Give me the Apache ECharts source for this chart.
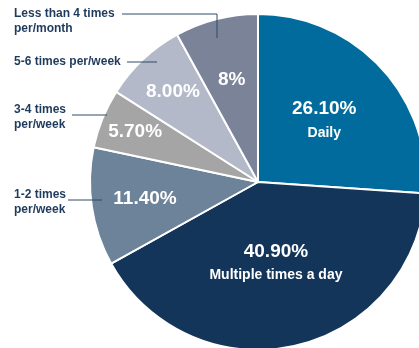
<!DOCTYPE html>
<html>
<head>
<meta charset="utf-8">
<script src="https://cdn.jsdelivr.net/npm/echarts@6/dist/echarts.min.js"></script>
<style>
  html, body { margin: 0; padding: 0; background: #ffffff; }
  #chart { width: 419px; height: 348px; }
</style>
</head>
<body>
<div id="chart"></div>
<script>
// Frequency categories, clockwise from 12 o'clock
const categories = [
  'Daily',
  'Multiple times a day',
  '1-2 times\nper/week',
  '3-4 times\nper/week',
  '5-6 times per/week',
  'Less than 4 times\nper/month'
];
// Share of respondents (%)
const shares = [26.1, 40.9, 11.4, 5.7, 8.0, 8.0];
// Value text shown on each slice
const valueLabels = ['26.10%', '40.90%', '11.40%', '5.70%', '8.00%', '8%'];
// Captions drawn under the value on the two large slices
const sliceCaptions = ['Daily', 'Multiple times a day', '', '', '', ''];
// Slices whose name is drawn outside, to the left
const outsideNamed = [false, false, true, true, true, true];

const colors = ['#006b9c', '#14355a', '#6d8399', '#a5a5a5', '#b3b9c8', '#7b8399'];

// Geometry
const CX = 258, CY = 182, R = 168;
// Radial position (fraction of radius) of each value label
const labelRadius = [0.54, 0.49, 0.68, 0.79, 0.74, 0.63];
// Placement of the outside names and their leader lines
const outsideLayout = [
  null,
  null,
  { x: 14, y: 202, line: [[68, 200], [102, 200]] },
  { x: 14, y: 117, line: [[72, 115], [107, 115]] },
  { x: 14, y: 62,  line: [[127, 62], [157, 62]] },
  { x: 14, y: 21,  line: [[122, 14], [217, 14], [217, 38]] }
];

const total = shares.reduce((a, b) => a + b, 0);
const midAngles = [];
{
  let acc = 0;
  shares.forEach(v => {
    midAngles.push((acc + v / 2) / total * 2 * Math.PI);
    acc += v;
  });
}

const chart = echarts.init(document.getElementById('chart'), null, { renderer: 'canvas' });

const innerData = shares.map((v, i) => ({
  value: v,
  name: categories[i],
  itemStyle: { color: colors[i] }
}));

const outerData = shares.map((v, i) => ({
  value: v,
  name: categories[i],
  label: { show: outsideNamed[i] }
}));

// Leader lines from each outside name into its slice
const leaderLines = outsideLayout.filter(Boolean).map(L => ({
  type: 'polyline',
  silent: true,
  z: 100,
  shape: { points: L.line },
  style: { stroke: '#2f4a68', lineWidth: 1, fill: null }
}));

chart.setOption({
  animation: false,
  textStyle: { fontFamily: 'Liberation Sans, Arial, sans-serif' },
  graphic: leaderLines,
  series: [
    {
      type: 'pie',
      center: [CX, CY],
      radius: [0, R],
      startAngle: 90,
      clockwise: true,
      silent: true,
      itemStyle: { borderColor: '#ffffff', borderWidth: 2 },
      label: {
        show: true,
        position: 'inside',
        formatter: p => sliceCaptions[p.dataIndex]
          ? '{v|' + valueLabels[p.dataIndex] + '}\n{c|' + sliceCaptions[p.dataIndex] + '}'
          : '{v|' + valueLabels[p.dataIndex] + '}',
        align: 'center',
        verticalAlign: 'middle',
        rich: {
          v: { color: '#ffffff', fontSize: 19, fontWeight: 'bold', lineHeight: 26,
               fontFamily: 'Liberation Sans, Arial, sans-serif', align: 'center' },
          c: { color: '#ffffff', fontSize: 14, fontWeight: 'bold', lineHeight: 22,
               fontFamily: 'Liberation Sans, Arial, sans-serif', align: 'center' }
        }
      },
      labelLine: { show: false },
      labelLayout: p => {
        const i = p.dataIndex;
        const a = midAngles[i];
        const r = labelRadius[i] * R;
        return {
          x: CX + r * Math.sin(a),
          y: CY - r * Math.cos(a),
          align: 'center',
          verticalAlign: 'middle'
        };
      },
      data: innerData
    },
    {
      type: 'pie',
      center: [CX, CY],
      radius: [0, R],
      startAngle: 90,
      clockwise: true,
      silent: true,
      itemStyle: { color: 'rgba(0,0,0,0)', borderWidth: 0 },
      label: {
        position: 'outside',
        formatter: '{b}',
        color: '#1e3a5c',
        fontSize: 12,
        fontWeight: 'bold',
        lineHeight: 15,
        overflow: 'none',
        width: 200,
        fontFamily: 'Liberation Sans, Arial, sans-serif'
      },
      labelLine: { show: false },
      labelLayout: p => {
        const L = outsideLayout[p.dataIndex];
        if (!L) return {};
        return {
          x: L.x,
          y: L.y,
          align: 'left',
          verticalAlign: 'middle'
        };
      },
      data: outerData
    }
  ]
});
</script>
</body>
</html>
